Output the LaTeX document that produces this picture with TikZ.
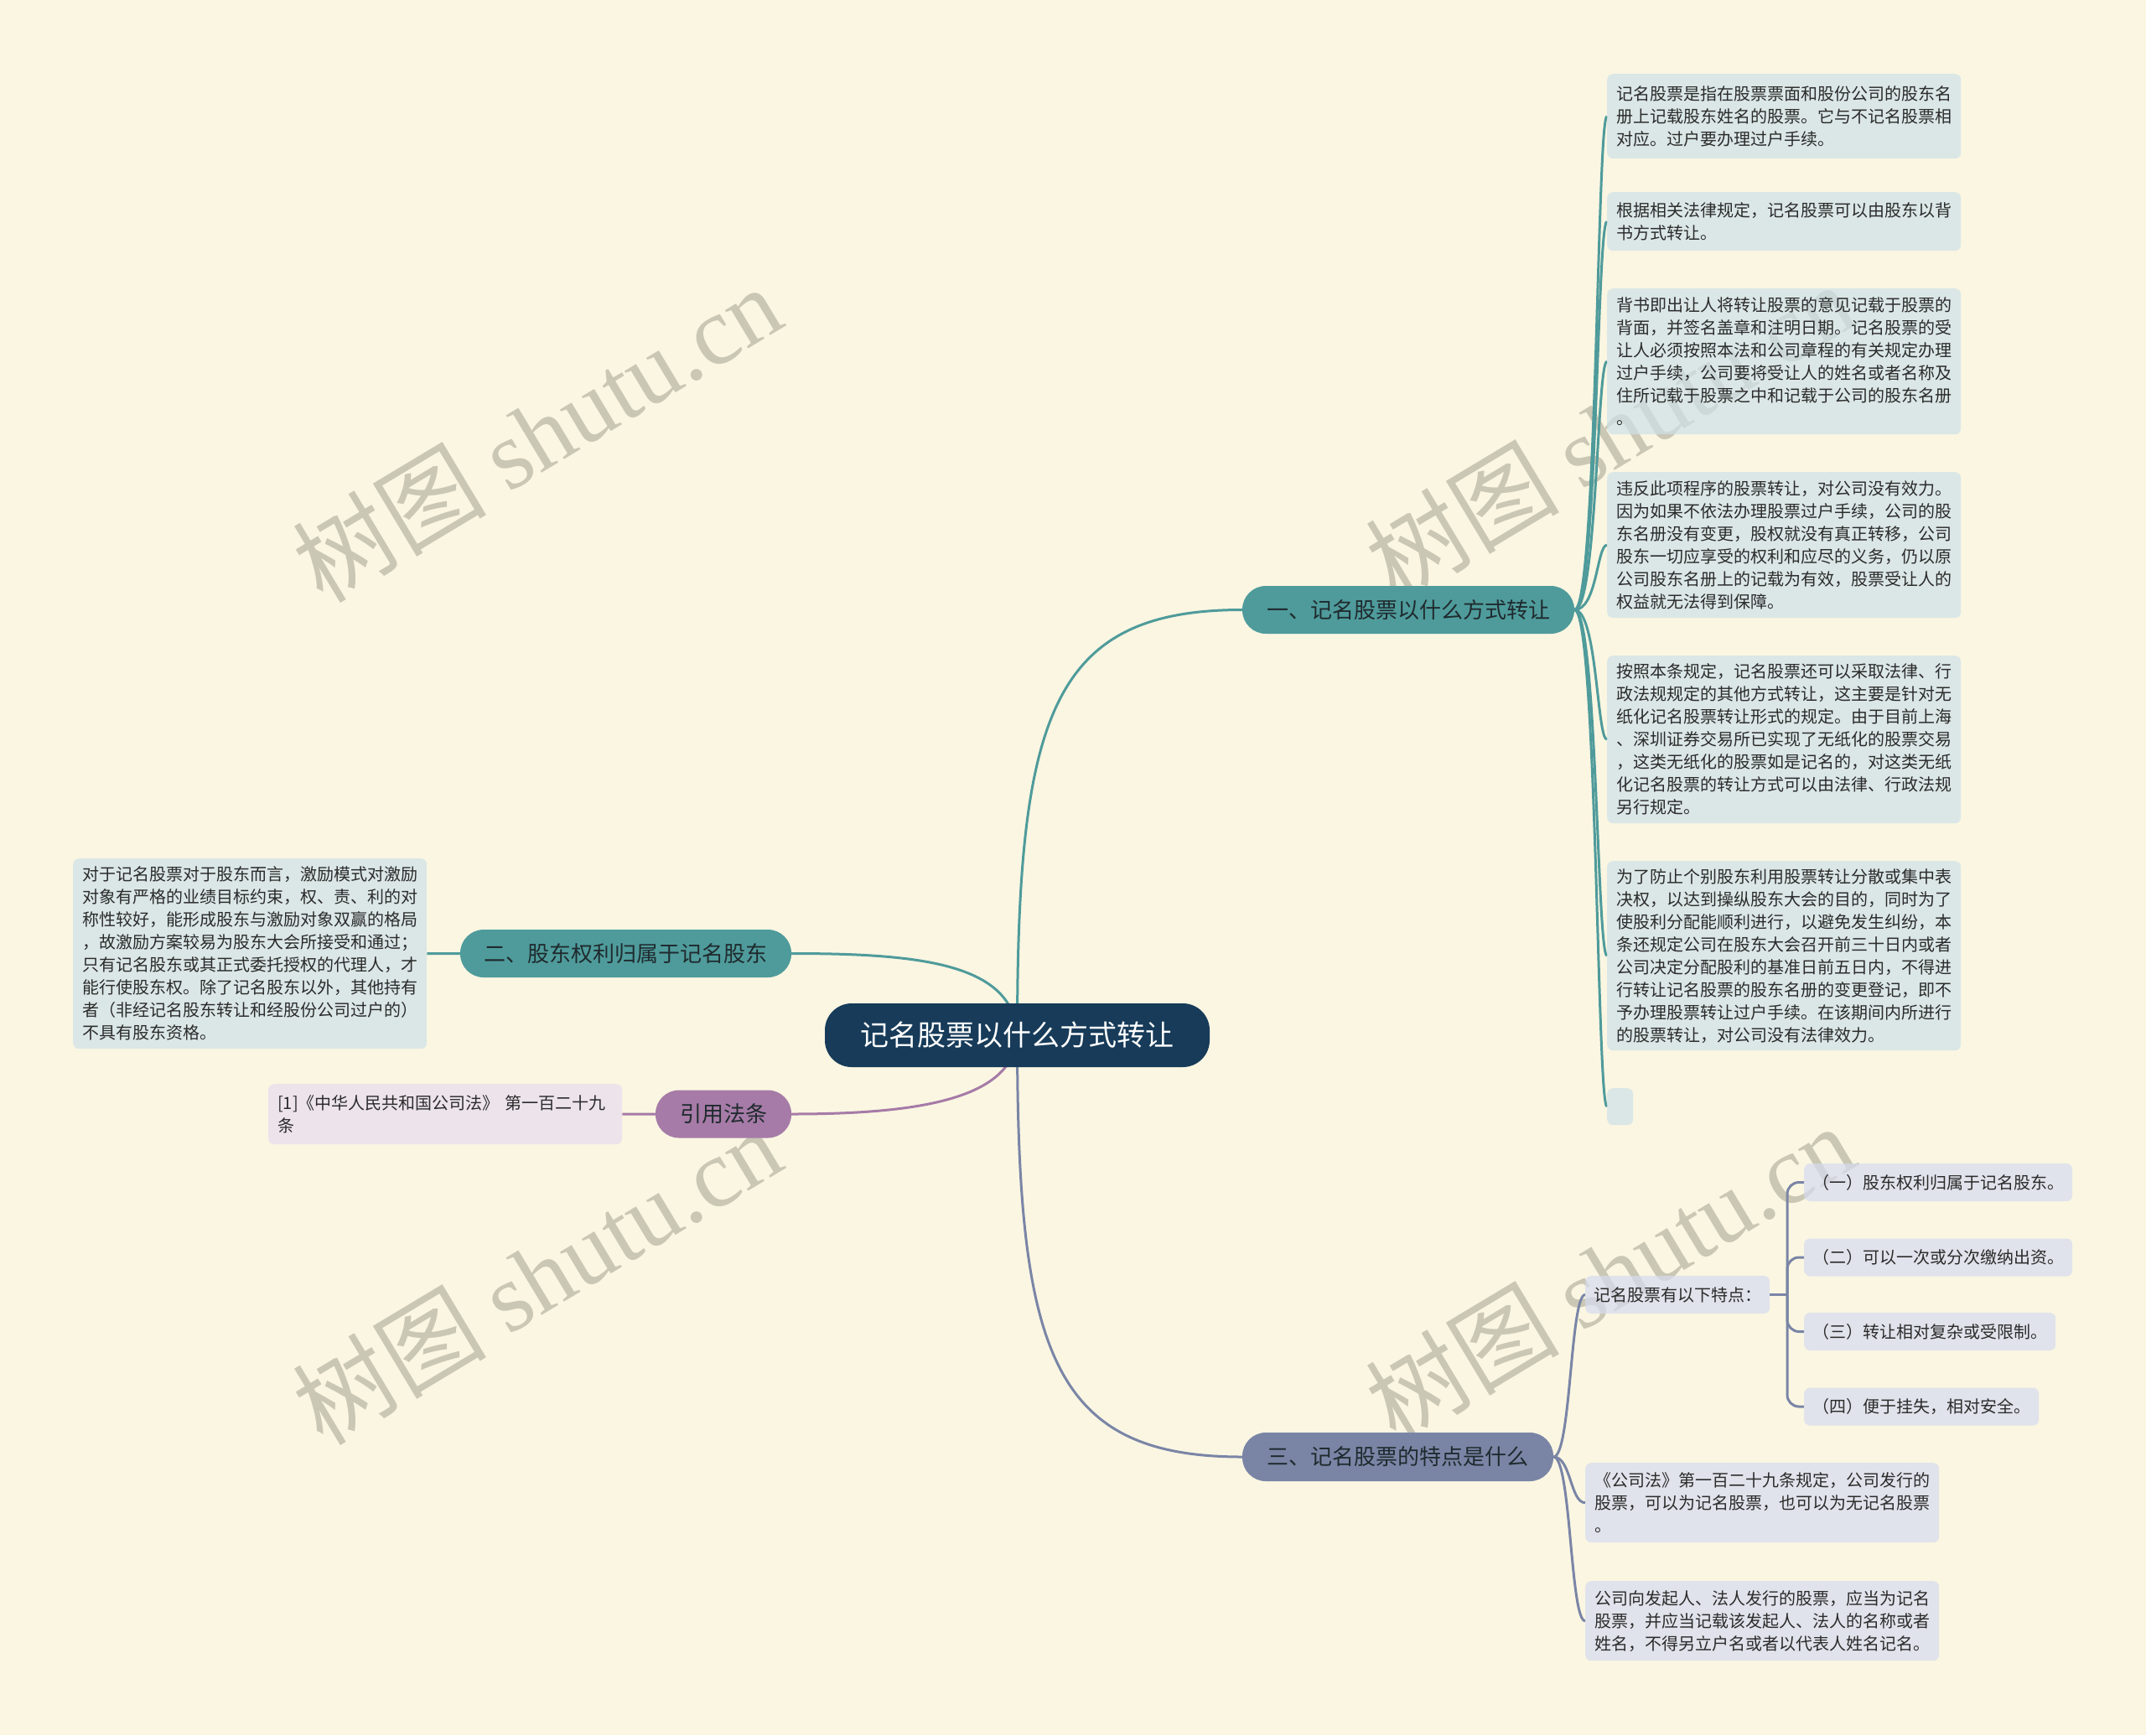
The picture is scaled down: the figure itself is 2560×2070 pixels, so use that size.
\documentclass[tikz,border=0pt]{standalone}
\usepackage{fontspec}
\setmainfont{Noto Sans CJK SC}
\newfontfamily\wmlatin{Liberation Serif}
\pgfdeclarelayer{back}
\pgfsetlayers{back,main}
\definecolor{bgc}{HTML}{FAF6E2}
\definecolor{rootc}{HTML}{173B59}
\definecolor{tealc}{HTML}{4F9B9B}
\definecolor{purpc}{HTML}{A67BA7}
\definecolor{slatec}{HTML}{7A85A6}
\definecolor{leaft}{HTML}{CFE2E8}
\definecolor{leafp}{HTML}{E7DBF0}
\definecolor{leafs}{HTML}{D6DCEF}
\definecolor{txt}{HTML}{2B2B2B}
\definecolor{txtd}{HTML}{1F2A2E}
\definecolor{wmc}{HTML}{C2BFAC}
\tikzset{
  rootbox/.style={rounded corners=32pt, fill=rootc, text=white, minimum width=459pt, minimum height=76pt, inner sep=0pt, font=\fontsize{34}{40}\selectfont},
  mainbox/.style={rounded corners=28pt, minimum height=57pt, inner sep=0pt, text=txtd, font=\fontsize{26}{30}\selectfont},
  leafbox/.style={rounded corners=7pt, anchor=north west, text width=400pt, inner xsep=11pt, inner ysep=0pt, align=left, text=txt, fill opacity=0.7, text opacity=1, font=\fontsize{20}{27}\selectfont},
  subbox/.style={rounded corners=7pt, anchor=west, minimum height=45pt, inner xsep=10pt, inner ysep=0pt, fill=leafs, fill opacity=0.7, text opacity=1, text=txt, font=\fontsize{20}{24}\selectfont},
  link/.style={line width=3pt},
  wmark/.style={text=wmc, opacity=0.85, rotate=31, inner sep=0pt, font=\fontsize{116}{130}\selectfont}
}
\begin{document}
\begin{tikzpicture}[x=1pt,y=-1pt]
\useasboundingbox (0,0) rectangle (2560,2070);

% root and main branches
\node[rootbox] (root) at (1213.5,1235) {记名股票以什么方式转让};
\node[mainbox, fill=tealc, minimum width=396pt] (b1) at (1680,727.5) {一、记名股票以什么方式转让};
\node[mainbox, fill=tealc, minimum width=395pt] (b2) at (746.5,1137.5) {二、股东权利归属于记名股东};
\node[mainbox, fill=purpc, minimum width=162pt] (rf) at (863,1329) {引用法条};
\node[mainbox, fill=slatec, minimum width=371pt, minimum height=58pt] (b3) at (1667.5,1738) {三、记名股票的特点是什么};

% branch 1 leaves
\node[leafbox, fill=leaft, minimum height=101pt] (t1) at (1917,88) {记名股票是指在股票票面和股份公司的股东名\\册上记载股东姓名的股票。它与不记名股票相\\对应。过户要办理过户手续。};
\node[leafbox, fill=leaft, minimum height=70pt] (t2) at (1917,229) {根据相关法律规定，记名股票可以由股东以背\\书方式转让。};
\node[leafbox, fill=leaft, minimum height=174pt] (t3) at (1917,344) {背书即出让人将转让股票的意见记载于股票的\\背面，并签名盖章和注明日期。记名股票的受\\让人必须按照本法和公司章程的有关规定办理\\过户手续，公司要将受让人的姓名或者名称及\\住所记载于股票之中和记载于公司的股东名册\\。};
\node[leafbox, fill=leaft, minimum height=174pt] (t4) at (1917,563) {违反此项程序的股票转让，对公司没有效力。\\因为如果不依法办理股票过户手续，公司的股\\东名册没有变更，股权就没有真正转移，公司\\股东一切应享受的权利和应尽的义务，仍以原\\公司股东名册上的记载为有效，股票受让人的\\权益就无法得到保障。};
\node[leafbox, fill=leaft, minimum height=200pt] (t5) at (1917,782) {按照本条规定，记名股票还可以采取法律、行\\政法规规定的其他方式转让，这主要是针对无\\纸化记名股票转让形式的规定。由于目前上海\\、深圳证券交易所已实现了无纸化的股票交易\\，这类无纸化的股票如是记名的，对这类无纸\\化记名股票的转让方式可以由法律、行政法规\\另行规定。};
\node[leafbox, fill=leaft, minimum height=226pt] (t6) at (1917,1027) {为了防止个别股东利用股票转让分散或集中表\\决权，以达到操纵股东大会的目的，同时为了\\使股利分配能顺利进行，以避免发生纠纷，本\\条还规定公司在股东大会召开前三十日内或者\\公司决定分配股利的基准日前五日内，不得进\\行转让记名股票的股东名册的变更登记，即不\\予办理股票转让过户手续。在该期间内所进行\\的股票转让，对公司没有法律效力。};
\node[fill=leaft, fill opacity=0.7, rounded corners=7pt, anchor=north west, minimum width=31pt, minimum height=44pt, inner sep=0pt] (t7) at (1917,1298) {};

% branch 2 leaf
\node[leafbox, fill=leaft, minimum height=227pt] (l2) at (87,1024) {对于记名股票对于股东而言，激励模式对激励\\对象有严格的业绩目标约束，权、责、利的对\\称性较好，能形成股东与激励对象双赢的格局\\，故激励方案较易为股东大会所接受和通过；\\只有记名股东或其正式委托授权的代理人，才\\能行使股东权。除了记名股东以外，其他持有\\者（非经记名股东转让和经股份公司过户的）\\不具有股东资格。};

% reference leaf
\node[leafbox, fill=leafp, minimum height=72pt] (rl) at (320,1293) {[1]《中华人民共和国公司法》 第一百二十九\\条};

% branch 3 leaves
\node[subbox] (s0) at (1891,1544.5) {记名股票有以下特点：};
\node[subbox] (s1) at (2152,1410.5) {（一）股东权利归属于记名股东。};
\node[subbox] (s2) at (2152,1500) {（二）可以一次或分次缴纳出资。};
\node[subbox] (s3) at (2152,1588.5) {（三）转让相对复杂或受限制。};
\node[subbox] (s4) at (2152,1678) {（四）便于挂失，相对安全。};
\node[leafbox, fill=leafs, minimum height=95pt] (l3a) at (1891,1745) {《公司法》第一百二十九条规定，公司发行的\\股票，可以为记名股票，也可以为无记名股票\\。};
\node[leafbox, fill=leafs, minimum height=95pt] (l3b) at (1891,1886) {公司向发起人、法人发行的股票，应当为记名\\股票，并应当记载该发起人、法人的名称或者\\姓名，不得另立户名或者以代表人姓名记名。};
\coordinate (j3) at (2132,1544.5);

\begin{pgfonlayer}{back}
\fill[bgc] (0,0) rectangle (2560,2070);
% watermarks (behind the boxes)
\node[wmark] (w1) at (640,517) {树图 {\wmlatin shutu.cn}};
\node[wmark] (w2) at (640,1522) {树图 {\wmlatin shutu.cn}};
\node[wmark] (w3) at (1920,514) {树图 {\wmlatin shutu.cn}};
\node[wmark] (w4) at (1920,1518) {树图 {\wmlatin shutu.cn}};
% root to main branches
\draw[link, tealc] (root.center) .. controls +(0,-381) and +(-228,0) .. (b1.west);
\draw[link, tealc] (root.center) .. controls +(-4,-85) and +(156,0) .. (b2.east);
\draw[link, purpc] (root.center) .. controls +(-4,75) and +(156,0) .. (rf.east);
\draw[link, slatec] (root.center) .. controls +(0,377) and +(-228,0) .. (b3.west);
% branch 1 to leaves
\foreach \n in {t1,t2,t3,t4,t5,t6,t7}
  \draw[link, tealc] (b1.east) .. controls +(27,0) and +(-12,0) .. (\n.west);
% branch 2 and reference
\draw[link, tealc] (l2.east) -- (b2.west);
\draw[link, purpc] (rl.east) -- (rf.west);
% branch 3
\foreach \n in {s0,l3a,l3b}
  \draw[link, slatec] (b3.east) .. controls +(21,0) and +(-18,0) .. (\n.west);
\draw[link, slatec] (s0.east) -- (j3);
\foreach \n in {s1,s2,s3,s4}
  \draw[link, slatec, rounded corners=14pt] (j3) |- (\n.west);
\end{pgfonlayer}
\end{tikzpicture}
\end{document}
